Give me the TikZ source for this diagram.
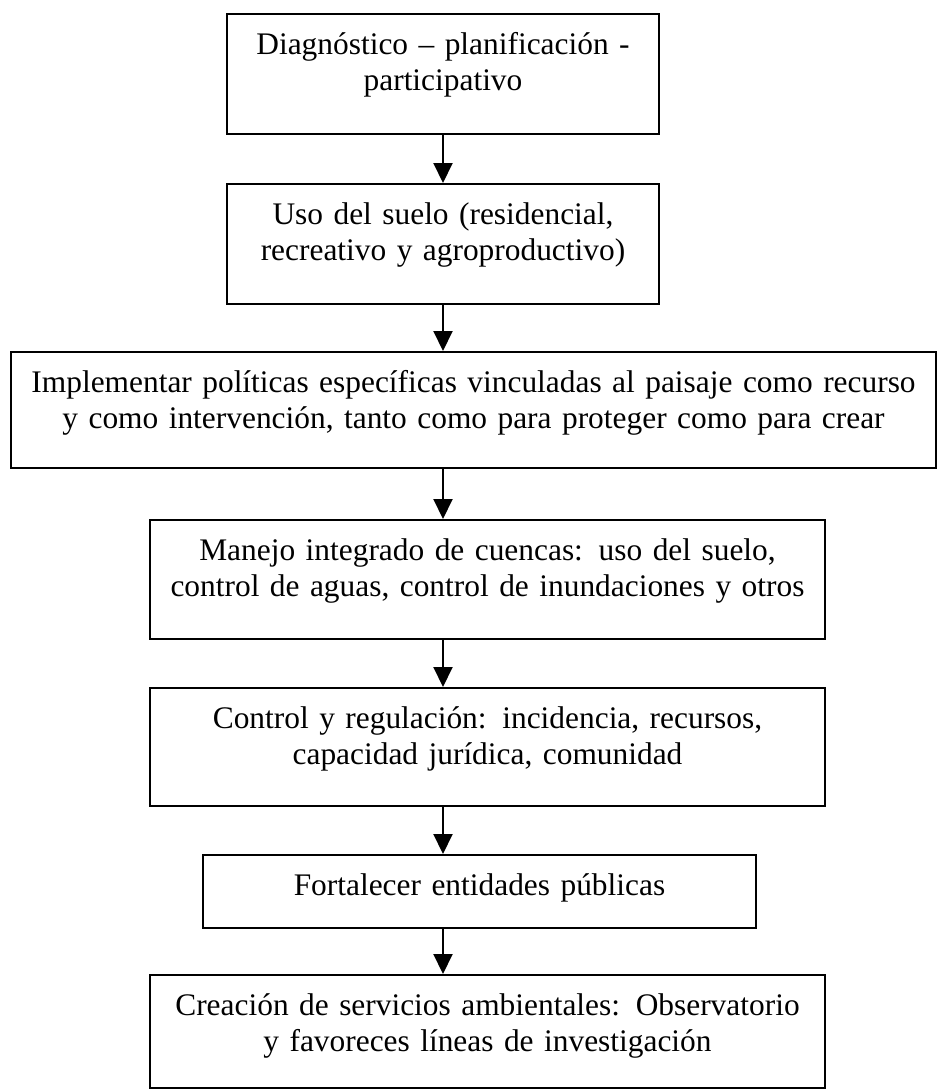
\documentclass[tikz,border=0pt]{standalone}
\usepackage{fontspec}
\setmainfont{Liberation Serif}
\usetikzlibrary{positioning, arrows.meta}

\tikzset{
    stage/.style={draw=black, line width=1pt, rectangle, anchor=north, align=center,
        inner xsep=0pt, inner ysep=0pt, text height=20pt,
        font=\fontsize{15.7}{18}\selectfont},
    flow/.style={line width=1pt, -{Triangle[length=10pt, width=9.5pt]}}
}

\begin{document}
\begin{tikzpicture}[x=0.5pt, y=-0.5pt]
        % page
        \useasboundingbox (0,0) rectangle (937,1089);
        \coordinate (axis) at (443,0);

        % stages
        \node[stage, text width=216pt, text depth=40pt] (diag) at (443,13)
            {Diagnóstico – planificación -\\participativo};
        \node[stage, text width=216pt, text depth=40pt] (suelo) at (443,183)
            {Uso del suelo (residencial,\\recreativo y agroproductivo)};
        \node[stage, text width=462.5pt, text depth=38pt] (politicas) at (473.5,351)
            {Implementar políticas específicas vinculadas al paisaje como recurso\\y como intervención, tanto como para proteger como para crear};
        \node[stage, text width=337.5pt, text depth=39.5pt] (cuencas) at (487.5,519)
            {Manejo integrado de cuencas: uso del suelo,\\control de aguas, control de inundaciones y otros};
        \node[stage, text width=337.5pt, text depth=39pt] (control) at (487.5,687)
            {Control y regulación: incidencia, recursos,\\capacidad jurídica, comunidad};
        \node[stage, text width=276.5pt, text depth=16.5pt] (entidades) at (479.5,854)
            {Fortalecer entidades públicas};
        \node[stage, text width=337.5pt, text depth=36.5pt] (servicios) at (487.5,974)
            {Creación de servicios ambientales: Observatorio\\y favoreces líneas de investigación};

        % arrows
        \draw[flow] (diag.south) -- (suelo.north);
        \draw[flow] (axis |- suelo.south) -- (axis |- politicas.north);
        \draw[flow] (axis |- politicas.south) -- (axis |- cuencas.north);
        \draw[flow] (axis |- cuencas.south) -- (axis |- control.north);
        \draw[flow] (axis |- control.south) -- (axis |- entidades.north);
        \draw[flow] (axis |- entidades.south) -- (axis |- servicios.north);
    \end{tikzpicture}
\end{document}
